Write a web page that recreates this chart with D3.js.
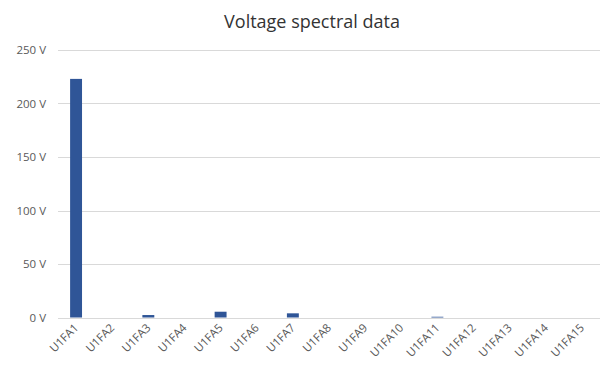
<!DOCTYPE html>
<html>
<head>
<meta charset="utf-8">
<script src="https://cdn.jsdelivr.net/npm/d3@7"></script>
<style>
  html, body { margin: 0; padding: 0; background: #fff; }
  svg { display: block; }
  text { font-family: "Open Sans", "Noto Sans", sans-serif; }
</style>
</head>
<body>
<svg id="chart" width="607" height="365"></svg>
<script>
// Harmonic components of the voltage spectrum
const categories = ["U1FA1","U1FA2","U1FA3","U1FA4","U1FA5","U1FA6","U1FA7","U1FA8",
                    "U1FA9","U1FA10","U1FA11","U1FA12","U1FA13","U1FA14","U1FA15"];
const voltages = [223, 0, 2.3, 0, 5.4, 0, 3.9, 0, 0, 0, 0.7, 0, 0, 0, 0];
const yTicks = [0, 50, 100, 150, 200, 250];

const svg = d3.select("#chart");
const margin = { left: 58, right: 7, top: 50, bottom: 47.5 };
const W = 607, H = 365;

const x = d3.scaleBand()
  .domain(categories)
  .range([margin.left, W - margin.right])
  .paddingInner(0.67)
  .paddingOuter(0.335);

const y = d3.scaleLinear()
  .domain([0, 250])
  .range([H - margin.bottom, margin.top]);

// Title
svg.append("text")
  .attr("x", 312)
  .attr("y", 28)
  .attr("text-anchor", "middle")
  .attr("font-size", 18)
  .attr("fill", "#333333")
  .text("Voltage spectral data");

// Horizontal gridlines
svg.append("g")
  .selectAll("line")
  .data(yTicks)
  .join("line")
  .attr("x1", margin.left)
  .attr("x2", W - margin.right)
  .attr("y1", d => Math.round(y(d)) + 0.5)
  .attr("y2", d => Math.round(y(d)) + 0.5)
  .attr("stroke", "#d9d9d9")
  .attr("stroke-width", 1);

// Y axis labels
const yAxis = d3.axisLeft(y).tickValues(yTicks).tickSize(0).tickPadding(0)
  .tickFormat(d => d + " V");
const gy = svg.append("g")
  .attr("transform", `translate(${margin.left - 12},0)`)
  .call(yAxis);
gy.select(".domain").remove();
gy.selectAll("text")
  .attr("font-size", 11.5)
  .attr("fill", "#595959")
  .attr("font-family", "'Open Sans', sans-serif");

// Bars
svg.append("g")
  .selectAll("rect")
  .data(voltages)
  .join("rect")
  .attr("x", (d, i) => x(categories[i]))
  .attr("y", d => y(d))
  .attr("width", x.bandwidth())
  .attr("height", d => y(0) - y(d))
  .attr("fill", "#2f5597");

// X axis labels, rotated
const xAxis = d3.axisBottom(x).tickSize(0).tickPadding(0);
const gx = svg.append("g")
  .attr("transform", `translate(0,${y(0)})`)
  .call(xAxis);
gx.select(".domain").remove();
gx.selectAll("text")
  .attr("font-size", 11.5)
  .attr("fill", "#595959")
  .attr("font-family", "'Open Sans', sans-serif")
  .attr("text-anchor", "end")
  .attr("dy", null)
  .attr("y", 0)
  .attr("transform", "translate(3,11) rotate(-45)");
</script>
</body>
</html>
